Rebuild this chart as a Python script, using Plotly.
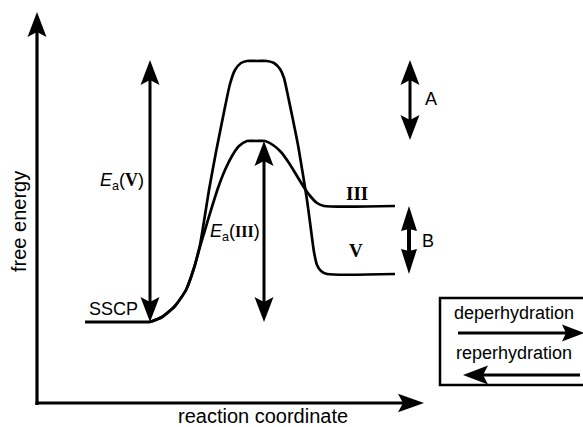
import plotly.graph_objects as go

# Reaction coordinate (x) and free energy (y) points of the two profiles
sscp_x = [85, 150]
sscp_level = 105          # starting state SSCP
ts_V, ts_III = 366, 286   # transition-state energies
prod_III, prod_V = 221, 153  # product energies

shared_x = [150, 162, 175, 186, 194]
shared_y = [105, 110, 121, 137, 159]

path_V_x = [200, 205, 209, 216, 224, 230, 235, 241, 247, 257, 267, 274, 280, 284,
            288, 293, 298, 303, 307, 311, 314, 317, 321, 327, 395]
path_V_y = [182, 212, 237, 275, 315, 343, 357, 364, 366, 366, 366, 364, 358, 349,
            331, 307, 282, 252, 227, 197, 175, 162, 156, 153, 153]

path_III_x = [199, 205, 211, 218, 225, 232, 239, 247, 256, 265, 273, 281, 289,
              297, 305, 311, 317, 324, 395]
path_III_y = [177, 197, 217, 239, 257, 271, 281, 286, 286, 286, 282, 275, 264,
              251, 238, 230, 224, 221, 221]

INK = "#000000"
SANS = "Liberation Sans, Arial, Helvetica, sans-serif"
SERIF = "Liberation Serif, Times New Roman, serif"

fig = go.Figure()

for xs, ys in ((path_V_x, path_V_y), (path_III_x, path_III_y)):
    fig.add_trace(go.Scatter(
        x=shared_x + xs, y=shared_y + ys, mode="lines",
        line=dict(color=INK, width=2.7, shape="spline", smoothing=0.6),
        hoverinfo="skip"))

# SSCP plateau
fig.add_trace(go.Scatter(x=sscp_x, y=[sscp_level, sscp_level], mode="lines",
                         line=dict(color=INK, width=3), hoverinfo="skip"))

shapes = []


def head(tip, d, L, W, notch):
    tx, ty = tip
    dx, dy = d
    bx, by = tx - L * dx, ty - L * dy
    px, py = -dy, dx
    nx, ny = tx - (L - notch) * dx, ty - (L - notch) * dy
    shapes.append(dict(
        type="path", xref="x", yref="y", line=dict(width=0), fillcolor=INK,
        path=f"M {tx},{ty} L {bx + W * px},{by + W * py} L {nx},{ny} "
             f"L {bx - W * px},{by - W * py} Z"))
    return nx, ny


def arrow(start, end, width=3, L=25, W=9.5, notch=5, both=False):
    sx, sy = start
    ex, ey = end
    n = ((ex - sx) ** 2 + (ey - sy) ** 2) ** 0.5
    d = ((ex - sx) / n, (ey - sy) / n)
    e2 = head(end, d, L, W, notch)
    s2 = head(start, (-d[0], -d[1]), L, W, notch) if both else start
    shapes.append(dict(type="line", xref="x", yref="y",
                       x0=s2[0], y0=s2[1], x1=e2[0], y1=e2[1],
                       line=dict(color=INK, width=width)))


# axes
arrow((37, 22), (37, 415), width=3.2, L=25, W=9.5, notch=5)
arrow((35.4, 24), (424, 24), width=3.2, L=26, W=9.3, notch=5)

# energy gaps
arrow((150, sscp_level), (150, ts_V + 1), width=3, both=True)
arrow((264, sscp_level), (264, ts_III), width=3, both=True)
arrow((410, ts_III + 1), (410, ts_V + 1), width=3, both=True)
arrow((409, prod_V), (409, prod_III), width=4, L=25, W=8, notch=2, both=True)

# legend box (open on the right edge) and its arrows
shapes.append(dict(type="path", xref="x", yref="y",
                   path="M 600,129 L 440,129 L 440,42 L 600,42",
                   line=dict(color=INK, width=2.5)))
arrow((458, 94), (584, 94), width=3, L=22, W=8.5, notch=4)
arrow((580, 52), (463, 52), width=3, L=25, W=9.5, notch=5)

ann = [
    dict(x=19, y=205, text="free energy", textangle=-90, size=20),
    dict(x=263, y=11, text="reaction coordinate", size=20),
    dict(x=113, y=118, text="SSCP", size=18),
    dict(x=122, y=246,
         text=f"<i>E</i><sub>a</sub>(<span style='font-family:{SERIF}'><b>V</b></span>)",
         size=18),
    dict(x=235, y=195,
         text=f"<i>E</i><sub>a</sub>(<span style='font-family:{SERIF};font-size:16px'><b>III</b></span>)",
         size=18),
    dict(x=357, y=234, text="<b>III</b>", size=19, family=SERIF),
    dict(x=356, y=177, text="<b>V</b>", size=19, family=SERIF),
    dict(x=431, y=328, text="A", size=18),
    dict(x=428, y=186, text="B", size=18),
    dict(x=514, y=114, text="deperhydration", size=18),
    dict(x=514, y=74, text="reperhydration", size=18),
]
annotations = []
for a in ann:
    annotations.append(dict(
        x=a["x"], y=a["y"], xref="x", yref="y", text=a["text"], showarrow=False,
        xanchor="center", yanchor="middle", textangle=a.get("textangle", 0),
        font=dict(family=a.get("family", SANS), size=a["size"], color=INK)))

fig.update_layout(
    width=583, height=427, margin=dict(l=0, r=0, t=0, b=0),
    paper_bgcolor="white", plot_bgcolor="white", showlegend=False,
    xaxis=dict(range=[0, 583], visible=False, fixedrange=True),
    yaxis=dict(range=[0, 427], visible=False, fixedrange=True),
    shapes=shapes, annotations=annotations,
)

fig.write_html("out.html")
